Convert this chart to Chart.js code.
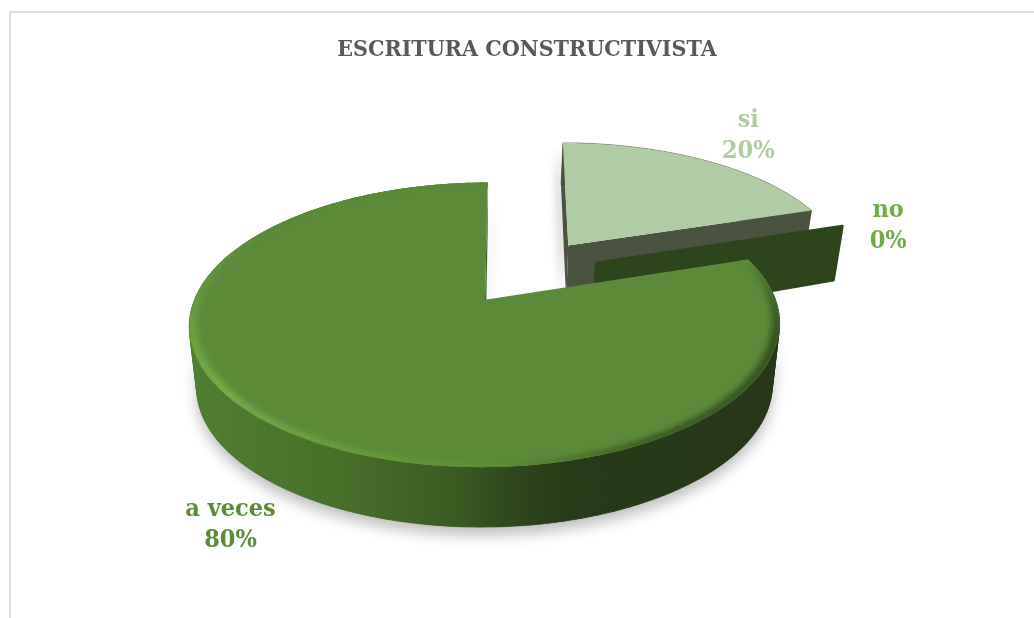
<!DOCTYPE html>
<html>
<head>
<meta charset="utf-8">
<script src="https://cdn.jsdelivr.net/npm/chart.js@4"></script>
<style>
  html, body { margin: 0; background: #fff; overflow: hidden; }
  #frame { position: absolute; left: 9px; top: 11px; width: 1100px; height: 700px; border: 2px solid #dcdcdc; }
  #pie { position: absolute; left: 10px; top: 12px; }
</style>
</head>
<body>
<div id="frame"></div>
<canvas id="pie" width="1034" height="606"></canvas>
<script>
const titleText = 'ESCRITURA CONSTRUCTIVISTA';
const categories = ['si', 'no', 'a veces'];
const percentages = [20, 0, 80];

const topColors = ['#b0cca4', '#2d451a', '#5b8b38'];
const wallColors = ['#4a5240', '#2d451a', '#263717'];
const labelColors = ['#b0cca4', '#70ad47', '#5b8b38'];

// explosion in px, and the direction it goes (degrees clockwise from north)
const sliceOffset = [92.2, 87, 0];
const explodeDir = [35, 55, 0];

// where the labels sit, around the pie in pie radii
const labelDir = [36.8, 68.6, 207.8];
const labelDist = [1.887, 1.64, 1.43];

// the fake 3d view
const viewX = 1.627, viewY = 0.772, perspective = 0.176;
const skews = [8, 3.2, 3.2];
const depth = 62, wallShrink = 0.975, pieShiftX = -42, pieShiftY = 1.5;

// main side goes from light on the left to dark on the right
const sideStops = [[0, '#507f31'], [0.25, '#47702a'], [0.45, '#3a5c22'], [0.55, '#2e471b'], [0.65, '#273b17'], [1, '#263717']];
// rim highlight per angle
const bevelStops = [[72, '#5b8b38'], [85, '#466c2b'], [105, '#34501e'], [150, '#3d5f24'], [175, '#5b8b38'], [195, '#62983c'], [235, '#74ae4a'], [270, '#64993e'], [300, '#5b8b38'], [360, '#5b8b38']];

const rad = Math.PI / 180;

function hexRgb(h) {
  return [1, 3, 5].map(i => parseInt(h.substr(i, 2), 16));
}

function mix(a, b, f) {
  let ca = hexRgb(a), cb = hexRgb(b);
  let c = ca.map((v, i) => Math.round(v + (cb[i] - v) * f));
  return `rgb(${c[0]},${c[1]},${c[2]})`;
}

function bevelColor(deg) {
  for (let i = 1; i < bevelStops.length; i++) {
    if (deg <= bevelStops[i][0]) {
      let f = (deg - bevelStops[i-1][0]) / (bevelStops[i][0] - bevelStops[i-1][0]);
      let ca = hexRgb(bevelStops[i-1][1]), cb = hexRgb(bevelStops[i][1]);
      let c = ca.map((v, k) => Math.round(v + (cb[k] - v) * f));
      return '#' + c.map(v => v.toString(16).padStart(2, '0')).join('');
    }
  }
  return bevelStops[bevelStops.length - 1][1];
}

// X, Y are in pie radii, Y points to the back of the pie
function project(arc, i, X, Y, lower) {
  let R = arc.outerRadius;
  let cx = arc.x + pieShiftX, cy = arc.y + pieShiftY;
  let w = 1 + perspective * Y;
  let x = cx + (R * viewX * X + skews[i] * Y) / w;
  let y = cy - (R * viewY * Y) / w;
  if (lower) {
    x = cx + 2 + (x - cx - 2) * wallShrink;
    y += Y > 0 ? depth - 14 * Y : depth + 2 * Y;
  }
  return { x: x, y: y };
}

function slicePoint(arc, i, t, r, lower) {
  let d = arc.options.offset / arc.outerRadius;
  let phi = explodeDir[i] * rad;
  return project(arc, i, d * Math.sin(phi) + r * Math.sin(t), d * Math.cos(phi) + r * Math.cos(t), lower);
}

function rimPath(ctx, arc, i, t0, t1, r, lower, start) {
  let steps = Math.max(1, Math.ceil(Math.abs(t1 - t0) / (rad * 1.5)));
  for (let s = 0; s <= steps; s++) {
    let p = slicePoint(arc, i, t0 + (t1 - t0) * s / steps, r, lower);
    if (s == 0 && start) ctx.moveTo(p.x, p.y);
    else ctx.lineTo(p.x, p.y);
  }
}

function wallPath(ctx, arc, i, t) {
  let a = slicePoint(arc, i, t, 0, false), b = slicePoint(arc, i, t, 1, false);
  let c = slicePoint(arc, i, t, 1, true), e = slicePoint(arc, i, t, 0, true);
  ctx.beginPath();
  ctx.moveTo(a.x, a.y);
  ctx.lineTo(b.x, b.y);
  ctx.lineTo(c.x, c.y);
  ctx.lineTo(e.x, e.y);
  ctx.closePath();
}

function sidePath(ctx, arc, i, t0, t1) {
  ctx.beginPath();
  rimPath(ctx, arc, i, t0, t1, 1, false, true);
  rimPath(ctx, arc, i, t1, t0, 1, true, false);
  ctx.closePath();
}

// quads, one after another, so the fold at the left and right edge fills properly
function fillSide(ctx, arc, i, t0, t1, fill) {
  ctx.fillStyle = fill;
  ctx.strokeStyle = fill;
  ctx.lineWidth = 0.6;
  let step = 1.5 * rad;
  for (let t = t0; t < t1; t += step) {
    sidePath(ctx, arc, i, t, Math.min(t + step, t1));
    ctx.fill();
    ctx.stroke();
  }
}

function topPath(ctx, arc, i, t0, t1) {
  let a = slicePoint(arc, i, t0, 0, false);
  ctx.beginPath();
  ctx.moveTo(a.x, a.y);
  rimPath(ctx, arc, i, t0, t1, 1, false, false);
  ctx.closePath();
}

function drawBevel(ctx, arc, i, t0, t1) {
  let rings = [0.999, 0.992, 0.985, 0.977, 0.969, 0.961];
  let fades = [0.2, 0.05, 0.1, 0.35, 0.65, 0.88];
  ctx.save();
  topPath(ctx, arc, i, t0, t1);
  ctx.clip();
  ctx.lineWidth = 2.5;
  ctx.lineCap = 'round';
  rings.forEach((r, k) => {
    for (let deg = t0 / rad; deg < t1 / rad; deg += 1.5) {
      let p = slicePoint(arc, i, deg * rad, r, false);
      let q = slicePoint(arc, i, (deg + 1.5) * rad, r, false);
      ctx.strokeStyle = mix(bevelColor(deg), topColors[i], fades[k]);
      ctx.beginPath();
      ctx.moveTo(p.x, p.y);
      ctx.lineTo(q.x, q.y);
      ctx.stroke();
    }
  });
  ctx.restore();
}

function drawSlice(ctx, arc, i) {
  let t0 = arc.startAngle + Math.PI / 2, t1 = arc.endAngle + Math.PI / 2;

  // zero slice: only its wall is left
  if (t1 - t0 < 0.001) {
    wallPath(ctx, arc, i, t0);
    ctx.fillStyle = wallColors[i];
    ctx.strokeStyle = wallColors[i];
    ctx.lineWidth = 3;
    ctx.lineJoin = 'round';
    ctx.fill();
    ctx.stroke();
    return;
  }

  if (t1 - t0 > Math.PI) {
    let g = ctx.createLinearGradient(arc.x + pieShiftX - arc.outerRadius * viewX, 0, arc.x + pieShiftX + arc.outerRadius * viewX, 0);
    for (let st of sideStops) g.addColorStop(st[0], st[1]);

    // soft shadow under the front of the pie
    ctx.save();
    ctx.shadowColor = 'rgba(0,0,0,0.26)';
    ctx.shadowBlur = 14;
    ctx.shadowOffsetY = 8;
    sidePath(ctx, arc, i, 100 * rad, 262 * rad);
    ctx.fillStyle = '#3a5c22';
    ctx.fill();
    ctx.restore();

    // shadow and sliver of the wall in the cut
    ctx.save();
    ctx.shadowColor = 'rgba(0,0,0,0.25)';
    ctx.shadowBlur = 9;
    ctx.shadowOffsetX = 4;
    ctx.fillStyle = '#3a5c22';
    wallPath(ctx, arc, i, t1);
    ctx.fill();
    ctx.restore();

    // only the part that can be seen, nothing dark behind the back rim
    fillSide(ctx, arc, i, 85 * rad, 290 * rad, g);

    topPath(ctx, arc, i, t0, t1);
    ctx.fillStyle = topColors[i];
    ctx.fill();
    drawBevel(ctx, arc, i, t0, t1);
    return;
  }

  ctx.save();
  ctx.shadowColor = 'rgba(0,0,0,0.3)';
  ctx.shadowBlur = 10;
  ctx.shadowOffsetX = -4;
  ctx.fillStyle = wallColors[i];
  wallPath(ctx, arc, i, t0);
  ctx.fill();
  ctx.restore();

  ctx.fillStyle = wallColors[i];
  wallPath(ctx, arc, i, t1);
  ctx.fill();
  fillSide(ctx, arc, i, t0, t1, wallColors[i]);

  topPath(ctx, arc, i, t0, t1);
  ctx.fillStyle = topColors[i];
  ctx.fill();
}

function drawLabels(ctx, arc) {
  ctx.textAlign = 'center';
  ctx.textBaseline = 'middle';
  ctx.font = 'bold 25px "DejaVu Serif Condensed"';
  categories.forEach((name, i) => {
    let t = labelDir[i] * rad;
    let p = project(arc, 2, labelDist[i] * Math.sin(t), labelDist[i] * Math.cos(t), false);
    ctx.fillStyle = labelColors[i];
    ctx.fillText(name, p.x, p.y - 15);
    ctx.fillText(percentages[i] + '%', p.x, p.y + 16);
  });
}

// draws the arcs the chart worked out, tilted, instead of the flat ones
const tiltedPie = {
  id: 'tiltedPie',
  beforeDatasetsDraw(chart) {
    let ctx = chart.ctx;
    let arcs = chart.getDatasetMeta(0).data;
    ctx.save();
    arcs.forEach((arc, i) => drawSlice(ctx, arc, i));
    drawLabels(ctx, arcs[0]);
    ctx.restore();
    return false;
  }
};

new Chart(document.getElementById('pie'), {
  type: 'pie',
  data: {
    labels: categories,
    datasets: [{
      data: percentages,
      backgroundColor: topColors,
      borderWidth: 0,
      offset: sliceOffset
    }]
  },
  options: {
    responsive: false,
    animation: false,
    layout: { padding: { bottom: 95 } },
    plugins: {
      legend: { display: false },
      tooltip: { enabled: false },
      title: {
        display: true,
        text: titleText,
        color: '#595959',
        font: { family: '"DejaVu Serif Condensed"', size: 23, weight: 'bold' },
        padding: { top: 24, bottom: 10 }
      }
    }
  },
  plugins: [tiltedPie]
});
</script>
</body>
</html>
